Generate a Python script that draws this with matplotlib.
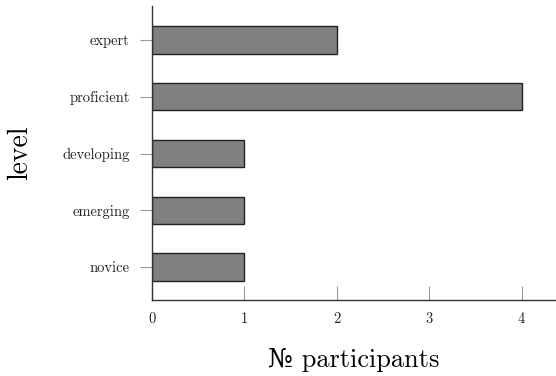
import matplotlib
matplotlib.use("Agg")
import matplotlib.pyplot as plt

levels = ["novice", "emerging", "developing", "proficient", "expert"]
counts = [1, 1, 1, 4, 2]

plt.rcParams['font.family'] = ['cmr10', 'DejaVu Serif']
plt.rcParams['axes.formatter.use_mathtext'] = True

fig = plt.figure(figsize=(5.56, 3.76), dpi=100)
ax = fig.add_axes([152/556, 76/376, 404/556, 294/376])

ax.barh(range(len(levels)), counts, height=0.48, color="#808080",
        edgecolor="#222222", linewidth=1.0)

ax.set_yticks(range(len(levels)))
ax.set_yticklabels(levels)
ax.set_xticks([0, 1, 2, 3, 4])
ax.set_xlim(0, 4.37)
ax.set_ylim(-0.58, 4.6)

for s in ["top", "right"]:
    ax.spines[s].set_visible(False)
for s in ["left", "bottom"]:
    ax.spines[s].set_color("#333333")
    ax.spines[s].set_linewidth(1.0)

ax.tick_params(axis="y", direction="out", length=9, color="#999999",
               labelsize=10.5, labelcolor="#222222", pad=7)
ax.tick_params(axis="x", direction="in", length=10, color="#999999",
               labelsize=10.5, labelcolor="#222222", pad=8)

ax.set_ylabel("level", fontsize=20, va="center")
ax.yaxis.set_label_coords(-0.328, 0.5)
ax.set_xlabel("№ participants", fontsize=19, va="center")
ax.xaxis.set_label_coords(0.5, -0.203)

fig.savefig("out.png", dpi=100)
